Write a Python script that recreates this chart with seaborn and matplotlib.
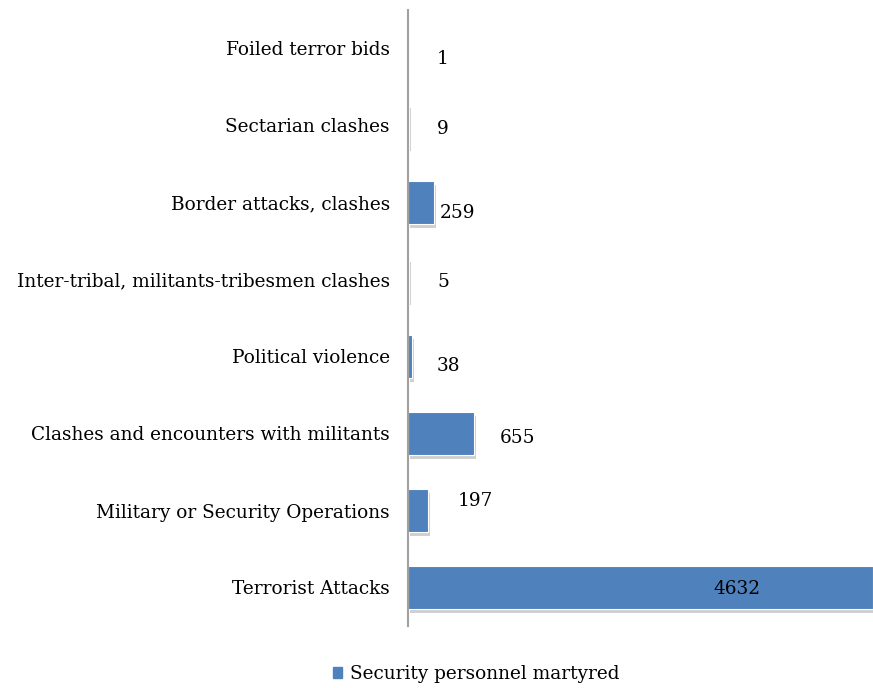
import matplotlib
matplotlib.use("Agg")
import matplotlib.pyplot as plt
import matplotlib.patheffects as pe
import seaborn as sns
import pandas as pd
from matplotlib.patches import Patch

categories = ["Foiled terror bids", "Sectarian clashes", "Border attacks, clashes",
              "Inter-tribal, militants-tribesmen clashes", "Political violence",
              "Clashes and encounters with militants", "Military or Security Operations",
              "Terrorist Attacks"]
values = [1, 9, 259, 5, 38, 655, 197, 4632]
series_name = "Security personnel martyred"

# label offsets in pixels (style only)
label_dx = [35, 34, 23, 35, 37, 44, 48, -136]
label_dy = [-11, -4, -11, -3, -10, -5, 9, -2]

sns.set_theme(style="white")
plt.rcParams["font.family"] = ["DejaVu Serif"]
plt.rcParams["text.color"] = "black"
plt.rcParams["ytick.color"] = "black"

FS = 13.3

df = pd.DataFrame({"category": categories, "value": values, "series": series_name})

fig = plt.figure(figsize=(8.73, 6.88), dpi=100)
ax = fig.add_axes([408 / 873, 1 - 626 / 688, 465 / 873, 616 / 688])

color = "#4F81BD"
sns.barplot(data=df, y="category", x="value", hue="series", palette=[color],
            orient="h", width=0.55, ax=ax, legend=False, saturation=1)

for p in ax.patches:
    p.set_path_effects([pe.SimplePatchShadow(offset=(1.5, -3), shadow_rgbFace="#8a8a8a", alpha=0.4),
                        pe.Normal()])
    p.set_edgecolor("white")
    p.set_linewidth(0.8)

ax.set_xlim(0, 4632)
ax.set_ylim(7.5, -0.5)
ax.set_xlabel("")
ax.set_ylabel("")
ax.set_xticks([])
ax.tick_params(axis="y", length=0, pad=13, labelsize=FS, labelcolor="black")
for s in ["top", "right", "bottom"]:
    ax.spines[s].set_visible(False)
ax.spines["left"].set_color("#A0A0A0")
ax.spines["left"].set_linewidth(1.5)

for i, v in enumerate(values):
    ax.annotate(str(v), xy=(v, i), xytext=(label_dx[i], label_dy[i]),
                textcoords="offset pixels", ha="center", va="center", fontsize=FS,
                color="black", annotation_clip=False)

fig.legend(handles=[Patch(facecolor=color, edgecolor=color)], labels=[series_name],
           loc="center", bbox_to_anchor=(476 / 873, 1 - 674 / 688), frameon=False,
           fontsize=FS, handlelength=0.5, handleheight=0.5, handletextpad=0.4)

fig.savefig("out.png", dpi=100)
